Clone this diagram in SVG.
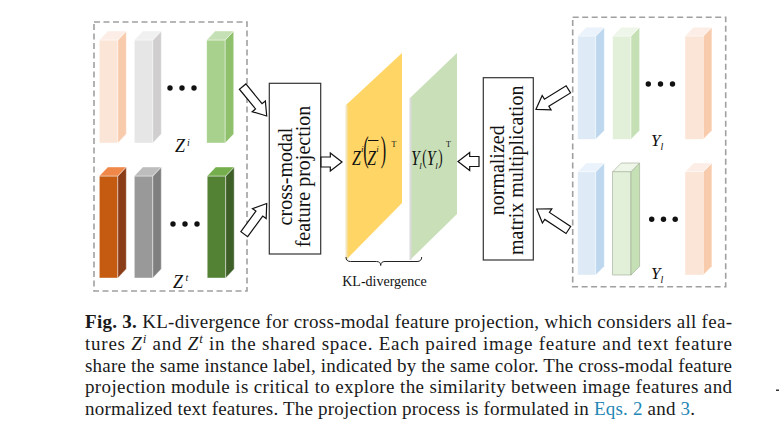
<svg xmlns="http://www.w3.org/2000/svg" xmlns:xlink="http://www.w3.org/1999/xlink" width="779" height="432" viewBox="0 0 779 432">
<style>
.dash{fill:none;stroke:#a0a0a0;stroke-width:1.6;stroke-dasharray:6 3.5}
.box{fill:#fff;stroke:#333;stroke-width:1.2}
.bar{stroke:#fff;stroke-width:0.7;stroke-opacity:0.6}
.dot{fill:#111}
.arr{fill:#fff;stroke:#111;stroke-width:1.2;stroke-linejoin:miter}
.lbl{font-family:"Liberation Serif","Times New Roman",serif;fill:#111}
.it{font-style:italic}
.cap{font-family:"Liberation Serif","Times New Roman",serif;font-size:19px;fill:#1a1a1a}
.link{fill:#1f87b5}
</style>
<defs>
<path id="ad" d="M0,0 L-12.5,-8.5 L-12.5,-4.2 L-38,-4.2 L-38,4.2 L-12.5,4.2 L-12.5,8.5 Z"/>
<path id="ah" d="M0,0 L-11.7,-9 L-11.7,-5 L-21,-5 L-21,5 L-11.7,5 L-11.7,9 Z"/>
</defs>
<rect width="779" height="432" fill="#fff"/>

<!-- left panel: image features Z^i and text features Z^t -->
<g id="left-features">
<rect class="dash" x="94" y="22" width="153" height="269"/>
<g class="bar">
<rect x="99.3" y="40" width="18.5" height="103" fill="#FBE5D6"/>
<polygon points="117.8,40 126.3,31 126.3,134 117.8,143" fill="#F8CBAD"/>
<polygon points="99.3,40 107.8,31 126.3,31 117.8,40" fill="#FCEEE6"/>
<rect x="134.3" y="40" width="18.5" height="103" fill="#E7E6E6"/>
<polygon points="152.8,40 161.3,31 161.3,134 152.8,143" fill="#D0CECE"/>
<polygon points="134.3,40 142.8,31 161.3,31 152.8,40" fill="#F0F0F0"/>
<rect x="206.7" y="40" width="18.5" height="103" fill="#A9D18E"/>
<polygon points="225.2,40 233.7,31 233.7,134 225.2,143" fill="#8FC06C"/>
<polygon points="206.7,40 215.2,31 233.7,31 225.2,40" fill="#C5E0B4"/>

<rect x="99.3" y="176" width="18.5" height="102" fill="#C55A11"/>
<polygon points="117.8,176 126.3,167 126.3,269 117.8,278" fill="#8B3D18"/>
<polygon points="99.3,176 107.8,167 126.3,167 117.8,176" fill="#F0884A"/>
<rect x="134.3" y="176" width="18.5" height="102" fill="#999999"/>
<polygon points="152.8,176 161.3,167 161.3,269 152.8,278" fill="#7F7F7F"/>
<polygon points="134.3,176 142.8,167 161.3,167 152.8,176" fill="#BDBDBD"/>
<rect x="207.2" y="176" width="18.5" height="102" fill="#548235"/>
<polygon points="225.7,176 234.2,167 234.2,269 225.7,278" fill="#3F5F28"/>
<polygon points="207.2,176 215.7,167 234.2,167 225.7,176" fill="#75AE4C"/>
</g>
<circle class="dot" cx="170" cy="88" r="2.7"/>
<circle class="dot" cx="182" cy="88" r="2.7"/>
<circle class="dot" cx="194" cy="88" r="2.7"/>
<circle class="dot" cx="173" cy="224" r="2.7"/>
<circle class="dot" cx="185" cy="224" r="2.7"/>
<circle class="dot" cx="197" cy="224" r="2.7"/>
<text class="lbl it" x="175" y="152" font-size="18">Z</text>
<text class="lbl it" x="187" y="145.5" font-size="10">i</text>
<text class="lbl it" x="173" y="287.5" font-size="18">Z</text>
<text class="lbl it" x="185.5" y="281" font-size="10">t</text>
</g>

<!-- right panel: text features Y_l -->
<g id="right-features">
<rect class="dash" x="572.7" y="17.3" width="153" height="269.4"/>
<g class="bar">
<rect x="577.7" y="36" width="18" height="103.3" fill="#DEEBF7"/>
<polygon points="595.7,36 604.3,27.3 604.3,130.6 595.7,139.3" fill="#BDD7EE"/>
<polygon points="577.7,36 586.3,27.3 604.3,27.3 595.7,36" fill="#EAF2FB"/>
<rect x="612.7" y="36" width="18.3" height="103.3" fill="#E2F0D9"/>
<polygon points="631,36 639.6,27.3 639.6,130.6 631,139.3" fill="#C5E0B4"/>
<polygon points="612.7,36 621.3,27.3 639.6,27.3 631,36" fill="#EEF6E9"/>
<rect x="685" y="36" width="18.3" height="103.3" fill="#FBE5D6"/>
<polygon points="703.3,36 711.9,27.3 711.9,130.6 703.3,139.3" fill="#F8CBAD"/>
<polygon points="685,36 693.6,27.3 711.9,27.3 703.3,36" fill="#FCEEE6"/>

<rect x="577.7" y="171.7" width="18" height="103.3" fill="#DEEBF7"/>
<polygon points="595.7,171.7 604.3,163 604.3,266.3 595.7,275" fill="#BDD7EE"/>
<polygon points="577.7,171.7 586.3,163 604.3,163 595.7,171.7" fill="#EAF2FB"/>
<rect x="685" y="171.7" width="18.3" height="103.3" fill="#FBE5D6"/>
<polygon points="703.3,171.7 711.9,163 711.9,266.3 703.3,275" fill="#F8CBAD"/>
<polygon points="685,171.7 693.6,163 711.9,163 703.3,171.7" fill="#FCEEE6"/>
</g>
<g stroke="#9AA890" stroke-width="0.6">
<rect x="612.7" y="171.7" width="18.3" height="103.3" fill="#E2F0D9"/>
<polygon points="631,171.7 639.6,163 639.6,266.3 631,275" fill="#C5E0B4"/>
<polygon points="612.7,171.7 621.3,163 639.6,163 631,171.7" fill="#EEF6E9"/>
</g>
<circle class="dot" cx="648.3" cy="84" r="2.7"/>
<circle class="dot" cx="660.5" cy="84" r="2.7"/>
<circle class="dot" cx="672.5" cy="84" r="2.7"/>
<circle class="dot" cx="651.7" cy="219.3" r="2.7"/>
<circle class="dot" cx="663.5" cy="219.3" r="2.7"/>
<circle class="dot" cx="675.2" cy="219.3" r="2.7"/>
<text class="lbl it" x="651" y="146" font-size="17">Y</text>
<text class="lbl it" x="660.5" y="150" font-size="10">l</text>
<text class="lbl it" x="651" y="278.5" font-size="17">Y</text>
<text class="lbl it" x="660.5" y="282.5" font-size="10">l</text>
</g>

<!-- cross-modal feature projection box -->
<g id="projection">
<rect class="box" x="269.3" y="83.3" width="51.4" height="170.7"/>
<text class="lbl" font-size="20" text-anchor="middle" transform="translate(295,176.5) rotate(-90)"><tspan x="0" y="-3.5">cross-modal</tspan><tspan x="0" y="14.5">feature projection</tspan></text>
</g>

<!-- normalized matrix multiplication box -->
<g id="normalization">
<rect class="box" x="483.3" y="77.7" width="50" height="182.3"/>
<text class="lbl" font-size="20" text-anchor="middle" transform="translate(508.3,170.3) rotate(-90)"><tspan x="0" y="-4.8">normalized</tspan><tspan x="0" y="14.2">matrix multiplication</tspan></text>
</g>

<!-- similarity planes -->
<g id="plane-image">
<polygon points="346,105 402,53 402,203 346,260" fill="#FFD666"/>
<line x1="346.5" y1="105" x2="346.5" y2="260" stroke="#F3E4BC" stroke-width="2"/>
<g class="lbl it">
<text font-size="21" transform="translate(352,165) scale(0.75,1)">Z</text>
<text font-size="9" x="361" y="152">i</text>
<text font-size="21" transform="translate(367.3,165) scale(0.75,1)">Z</text>
<text font-size="9" x="376.3" y="152">i</text>
</g>
<line x1="368" y1="140.5" x2="378.5" y2="140.5" stroke="#111" stroke-width="1"/>
<text class="lbl" font-size="36" transform="translate(363.2,160.5) scale(0.45,1)">(</text>
<text class="lbl" font-size="36" transform="translate(380.8,160.5) scale(0.45,1)">)</text>
<text class="lbl" font-size="8" x="391.5" y="147">T</text>
</g>
<g id="plane-text">
<polygon points="410,98 457,53 457,214 410,260" fill="#C8DFB8"/>
<line x1="410.5" y1="98" x2="410.5" y2="260" stroke="#DADADA" stroke-width="2"/>
<g class="lbl it">
<text font-size="21" transform="translate(411,165) scale(0.75,1)">Y</text>
<text font-size="9" x="419.3" y="168.5">l</text>
<text font-size="21" transform="translate(426.8,165) scale(0.75,1)">Y</text>
<text font-size="9" x="435.2" y="168.5">l</text>
</g>
<text class="lbl" font-size="22" transform="translate(422.2,164.3) scale(0.6,1)">(</text>
<text class="lbl" font-size="22" transform="translate(438.2,164.3) scale(0.6,1)">)</text>
<text class="lbl" font-size="8" x="446" y="147">T</text>
</g>

<g id="kl-divergence">
<path d="M346,257 Q346,261.5 350.5,261.5 L376.5,261.5 Q380.7,261.5 380.7,265.5 Q380.7,261.5 385,261.5 L417,261.5 Q421.7,261.5 421.7,257" fill="none" stroke="#222" stroke-width="1"/>
<text class="lbl" font-size="14" x="384.5" y="286" text-anchor="middle">KL-divergence</text>
</g>

<!-- connectors -->
<g id="connectors" class="arr">
<use xlink:href="#ad" transform="translate(266.7,116) rotate(50.7)"/>
<use xlink:href="#ad" transform="translate(266.7,203.5) rotate(-53.8)"/>
<use xlink:href="#ah" transform="translate(342,162)"/>
<use xlink:href="#ah" transform="translate(458,161.5) rotate(180)"/>
<use xlink:href="#ad" transform="translate(536,109.3) rotate(148.3)"/>
<use xlink:href="#ad" transform="translate(536.7,209) rotate(-146.4)"/>
</g>

<!-- caption -->
<g id="caption" class="cap">
<text x="85" y="328" textLength="647" lengthAdjust="spacing"><tspan font-weight="bold">Fig. 3.</tspan> KL-divergence for cross-modal feature projection, which considers all fea-</text>
<text x="85" y="350" textLength="647" lengthAdjust="spacing">tures <tspan font-style="italic">Z</tspan><tspan font-style="italic" font-size="13" dy="-7">i</tspan><tspan dy="7"> and </tspan><tspan font-style="italic">Z</tspan><tspan font-style="italic" font-size="13" dy="-7">t</tspan><tspan dy="7"> in the shared space. Each paired image feature and text feature</tspan></text>
<text x="85" y="371.5" textLength="647" lengthAdjust="spacing">share the same instance label, indicated by the same color. The cross-modal feature</text>
<text x="85" y="393.3" textLength="647" lengthAdjust="spacing">projection module is critical to explore the similarity between image features and</text>
<text x="85" y="415" textLength="610" lengthAdjust="spacing">normalized text features. The projection process is formulated in <tspan class="link">Eqs. 2</tspan> and <tspan class="link">3</tspan>.</text>
</g>
<rect x="776" y="389.5" width="3" height="1.5" fill="#333"/>
</svg>
